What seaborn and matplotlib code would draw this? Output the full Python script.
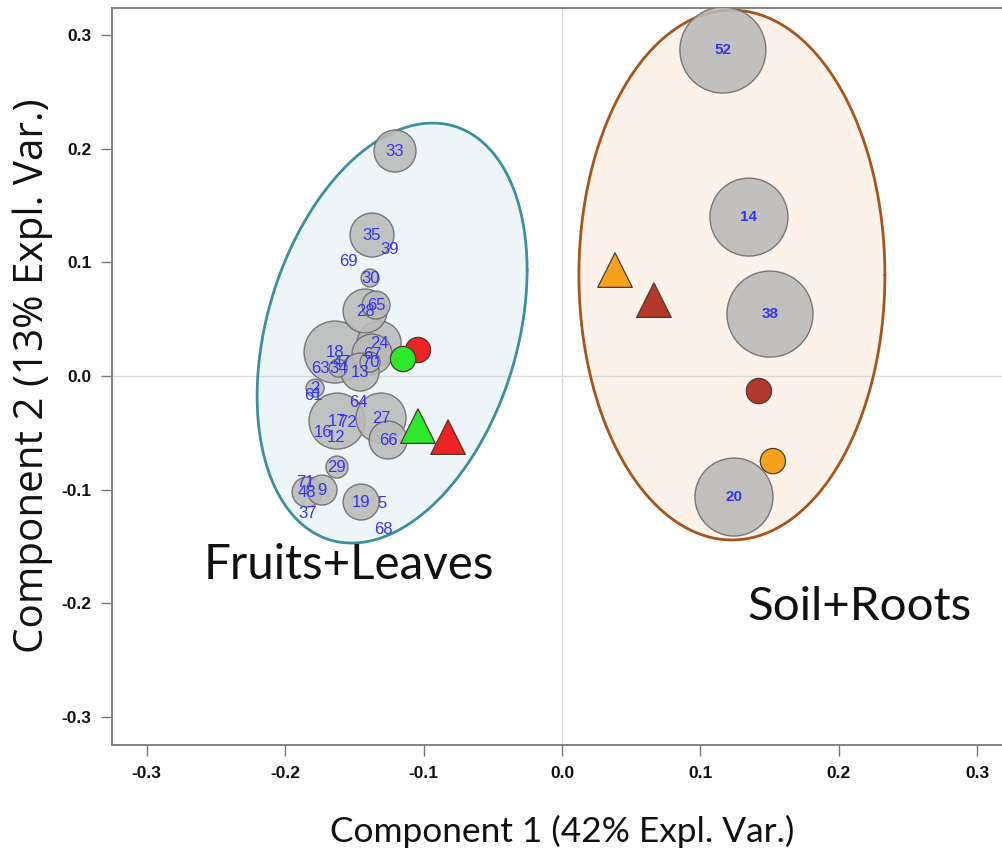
import numpy as np
import pandas as pd
import matplotlib
matplotlib.use("Agg")
import matplotlib.pyplot as plt
import seaborn as sns

# ---------------- data ----------------
sample_ids = ["52", "14", "38", "20", "33", "35", "39", "69", "30", "28", "65", "24",
              "18", "47", "67", "70", "63", "34", "13", "2", "61", "64", "27", "17",
              "72", "16", "12", "66", "29", "71", "48", "9", "19", "5", "37", "68"]
comp1 = [0.1162, 0.1350, 0.1502, 0.1242, -0.1206, -0.1372, -0.1242, -0.1545, -0.1386,
         -0.1422, -0.1343, -0.1321, -0.1639, -0.1588, -0.1372, -0.1386, -0.1747, -0.1617,
         -0.1458, -0.1783, -0.1798, -0.1473, -0.1307, -0.1625, -0.1552, -0.1726, -0.1632,
         -0.1256, -0.1625, -0.1856, -0.1841, -0.1733, -0.1451, -0.1300, -0.1834, -0.1292]
comp2 = [0.2867, 0.1398, 0.0545, -0.1064, 0.1979, 0.1240, 0.1117, 0.1011, 0.0862,
         0.0572, 0.0624, 0.0290, 0.0211, 0.0123, 0.0193, 0.0123, 0.0070, 0.0070,
         0.0035, -0.0106, -0.0167, -0.0237, -0.0369, -0.0396, -0.0405, -0.0493, -0.0537,
         -0.0563, -0.0800, -0.0932, -0.1020, -0.1003, -0.1108, -0.1117, -0.1205, -0.1354]
contribution = [0.43, 0.39, 0.43, 0.39, 0.21, 0.22, 0.0, 0.0, 0.09, 0.22, 0.14, 0.22,
                0.31, 0.0, 0.20, 0.10, 0.0, 0.09, 0.19, 0.09, 0.0, 0.0, 0.25, 0.28,
                0.0, 0.0, 0.0, 0.19, 0.11, 0.0, 0.15, 0.15, 0.18, 0.0, 0.0, 0.0]
sample_group = ["Soil+Roots"] * 4 + ["Fruits+Leaves"] * 32

centroid_tissue = ["Fruits", "Leaves", "Fruits", "Leaves", "Soil", "Roots", "Roots", "Soil"]
centroid_shape = ["circle", "circle", "triangle", "triangle", "triangle", "triangle", "circle", "circle"]
centroid_c1 = [-0.1040, -0.1148, -0.0823, -0.1040, 0.0383, 0.0664, 0.1422, 0.1523]
centroid_c2 = [0.0229, 0.0150, -0.0537, -0.0440, 0.0932, 0.0668, -0.0132, -0.0748]

ellipse_group = ["Fruits+Leaves", "Soil+Roots"]
ellipse_cx = [-0.1227, 0.1227]
ellipse_cy = [0.0378, 0.0888]
ellipse_sx = [0.0975, 0.1105]
ellipse_sy = [0.1847, 0.2330]
ellipse_rho = [0.30, 0.0]

xticks = [-0.3, -0.2, -0.1, 0.0, 0.1, 0.2, 0.3]
yticks = [-0.3, -0.2, -0.1, 0.0, 0.1, 0.2, 0.3]
xlabel = "Component 1 (42% Expl. Var.)"
ylabel = "Component 2 (13% Expl. Var.)"

# ---------------- style ----------------
sns.set_style("white")
plt.rcParams["font.family"] = ["Liberation Sans", "DejaVu Sans"]

fig = plt.figure(figsize=(10.03, 8.6), dpi=100)
ax = fig.add_axes([112 / 1003, 115 / 860, 900 / 1003, 737 / 860])
ax.set_xlim(-0.325, 0.325)
ax.set_ylim(-0.3245, 0.3237)

ell_fill = {"Fruits+Leaves": "#eef5f9", "Soil+Roots": "#fdf2e9"}
ell_edge = {"Fruits+Leaves": "#3d8f9e", "Soil+Roots": "#a5561c"}
t = np.linspace(0, 2 * np.pi, 400)
for g, cx, cy, sx, sy, rho in zip(ellipse_group, ellipse_cx, ellipse_cy, ellipse_sx, ellipse_sy, ellipse_rho):
    ex = cx + sx * np.cos(t)
    ey = cy + sy * (rho * np.cos(t) + np.sqrt(1 - rho ** 2) * np.sin(t))
    ax.fill(ex, ey, color=ell_fill[g], zorder=1, lw=0)
    ax.plot(ex, ey, color=ell_edge[g], lw=2, zorder=2)

ax.axhline(0, color="#d8d8d8", lw=1, zorder=1.5)
ax.axvline(0, color="#d8d8d8", lw=1, zorder=1.5)

df = pd.DataFrame({"id": sample_ids, "c1": comp1, "c2": comp2,
                   "contribution": contribution, "group": sample_group})
df["area"] = df["contribution"] ** 2
bub = df[df["contribution"] > 0].sort_values("contribution", ascending=False)
k = (2 * 100 * 0.72) ** 2
amin, amax = bub["area"].min(), bub["area"].max()
sns.scatterplot(data=bub, x="c1", y="c2", size="area", sizes=(k * amin, k * amax),
                size_norm=(amin, amax), color="#bababa", edgecolor="#6a6a6a",
                linewidth=1, alpha=0.88, legend=False, ax=ax, zorder=3)

cent = pd.DataFrame({"tissue": centroid_tissue, "shape": centroid_shape,
                     "c1": centroid_c1, "c2": centroid_c2})
palette = {"Fruits": "#ee2424", "Leaves": "#2ee82e", "Soil": "#f6a21d", "Roots": "#b3372b"}
sns.scatterplot(data=cent, x="c1", y="c2", hue="tissue", style="shape", size="shape",
                palette=palette, markers={"circle": "o", "triangle": "^"},
                sizes={"circle": 330, "triangle": 620}, edgecolor="#4a3a30",
                linewidth=0.9, legend=False, ax=ax, zorder=4)

for _, r in df.iterrows():
    if r["group"] == "Soil+Roots":
        ax.text(r["c1"], r["c2"], r["id"], ha="center", va="center", color="#3535e8",
                fontsize=11, fontweight="bold", zorder=5)
    else:
        ax.text(r["c1"], r["c2"], r["id"], ha="center", va="center", color="#3535f0",
                fontsize=12, zorder=5)

big_font = ["Lato", "DejaVu Sans"]
t1 = ax.text(-0.1538, -0.1662, "Fruits+Leaves", ha="center", va="center",
             family=big_font, fontsize=34, color="#111111", zorder=6)
t2 = ax.text(0.2152, -0.2032, "Soil+Roots", ha="center", va="center",
             family=big_font, fontsize=34, color="#111111", zorder=6)

ax.set_xticks(xticks)
ax.set_yticks(yticks)
ax.set_xticklabels([f"{v:.1f}" for v in xticks])
ax.set_yticklabels([f"{v:.1f}" for v in yticks])
for lab in ax.get_xticklabels() + ax.get_yticklabels():
    lab.set_family(["Liberation Sans Narrow", "Liberation Sans", "DejaVu Sans"])
    lab.set_fontweight("bold")
    lab.set_fontsize(12.5)
ax.tick_params(axis="both", direction="out", length=8, width=1, color="#777777",
               pad=7, labelcolor="#111111", bottom=True, left=True)
for sp in ax.spines.values():
    sp.set_color("#7a7a7a")
    sp.set_linewidth(1.3)

ax.set_xlabel(xlabel, family=big_font, fontsize=24, color="#111111", va="center")
ax.set_ylabel(ylabel, family=["Open Sans", "Lato", "DejaVu Sans"], fontsize=24,
              color="#111111", va="center")
ax.xaxis.set_label_coords(0.5, -0.1167)
ax.yaxis.set_label_coords(-0.0878, 0.5007)

# fit big text widths to reference
fig.canvas.draw()
def fit(txt, target, vertical=False):
    bb = txt.get_window_extent()
    cur = bb.height if vertical else bb.width
    txt.set_fontsize(txt.get_fontsize() * target / cur)
fit(t1, 291)
fit(t2, 224)
fit(ax.xaxis.label, 465)
fit(ax.yaxis.label, 555, vertical=True)

fig.savefig("out.png", dpi=100, facecolor="white")
